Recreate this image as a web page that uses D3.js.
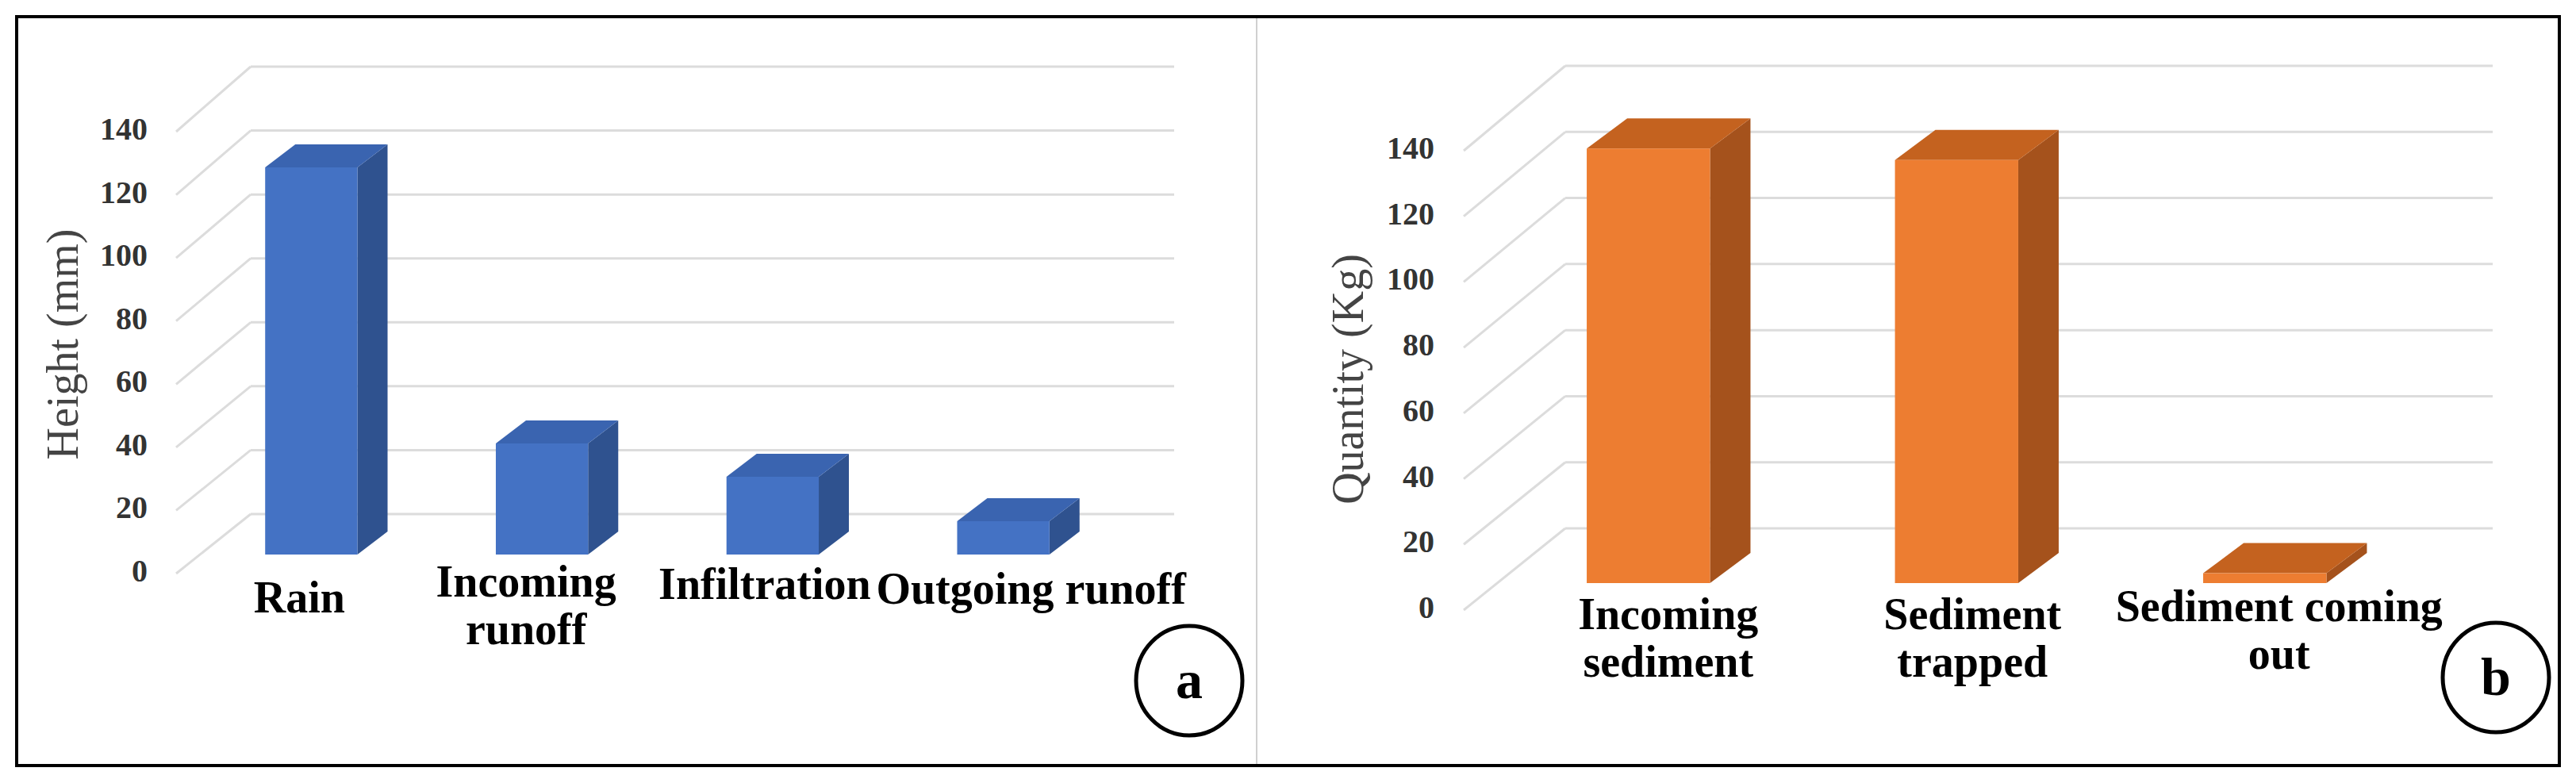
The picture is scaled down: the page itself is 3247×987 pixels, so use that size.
<!DOCTYPE html>
<html>
<head>
<meta charset="utf-8">
<script src="https://cdn.jsdelivr.net/npm/d3@7"></script>
<style>
  body { margin: 0; background: #fff; }
  svg { display: block; }
</style>
</head>
<body>
<div id="container"></div>
<script>
// data
let ticks = [0, 20, 40, 60, 80, 100, 120, 140];
let catsA = [["Rain"], ["Incoming", "runoff"], ["Infiltration"], ["Outgoing runoff"]];
let valsA = [122, 35, 24.5, 10.5];
let catsB = [["Incoming", "sediment"], ["Sediment", "trapped"], ["Sediment coming", "out"]];
let valsB = [132, 128.5, 3];

let w = 3247;
let h = 987;

let svg = d3.select("#container").append("svg")
  .attr("width", w)
  .attr("height", h);

// frame
svg.append("rect").attr("x", 21).attr("y", 21).attr("width", 3205).attr("height", 944)
  .attr("fill", "none").attr("stroke", "#000").attr("stroke-width", 4);
svg.append("line").attr("x1", 1584).attr("x2", 1584).attr("y1", 23).attr("y2", 963)
  .attr("stroke", "#d0d0d0").attr("stroke-width", 2);

function drawPanel(cfg) {
  let g = svg.append("g");
  let x = d3.scaleBand().domain(d3.range(cfg.cats.length))
    .range(cfg.xRange).paddingInner(0.6).paddingOuter(0.3);
  let yFront = d3.scaleLinear().domain([0, 140]).range(cfg.frontY);
  let yBack = d3.scaleLinear().domain([0, 140]).range(cfg.backY);
  let yBar = d3.scaleLinear().domain([0, 140]).range([cfg.base, cfg.base - 140 * cfg.unit]);

  // gridlines: diagonal on the left wall + back wall lines
  g.selectAll(".diag").data(ticks).join("line")
    .attr("x1", cfg.diagX0).attr("y1", d => yFront(d) + 4)
    .attr("x2", cfg.backX0).attr("y2", d => yBack(d))
    .attr("stroke", "#dcdcdc").attr("stroke-width", 3);
  g.selectAll(".back").data(ticks).join("line")
    .attr("x1", cfg.backX0).attr("y1", d => yBack(d))
    .attr("x2", cfg.backX1).attr("y2", d => yBack(d))
    .attr("stroke", "#dcdcdc").attr("stroke-width", 3);

  // tick labels
  g.selectAll(".tick").data(ticks).join("text")
    .attr("x", cfg.tickX).attr("y", d => yFront(d))
    .attr("text-anchor", "end").attr("dy", "0.35em")
    .attr("font-family", "Liberation Serif").attr("font-weight", "bold")
    .attr("font-size", 40).attr("fill", "#333")
    .text(d => d);

  // axis title
  g.append("text")
    .attr("transform", `translate(${cfg.titleX},${cfg.titleY}) rotate(-90)`)
    .attr("text-anchor", "middle").attr("dy", "0.35em")
    .attr("font-family", "Liberation Serif").attr("font-size", 56).attr("fill", "#444")
    .text(cfg.title);

  // 3d bars
  let dx = cfg.dx, dy = cfg.dy;
  let bars = g.selectAll(".bar").data(cfg.vals).join("g");
  bars.append("path")
    .attr("fill", cfg.side)
    .attr("d", (d, i) => {
      let x1 = x(i) + x.bandwidth(), yt = yBar(d), yb = yBar(0);
      return `M${x1},${yt}L${x1 + dx},${yt + dy}L${x1 + dx},${yb + dy}L${x1},${yb}Z`;
    });
  bars.append("path")
    .attr("fill", cfg.top)
    .attr("d", (d, i) => {
      let x0 = x(i), x1 = x0 + x.bandwidth(), yt = yBar(d);
      return `M${x0},${yt}L${x1},${yt}L${x1 + dx},${yt + dy}L${x0 + dx},${yt + dy}Z`;
    });
  bars.append("rect")
    .attr("x", (d, i) => x(i)).attr("width", x.bandwidth())
    .attr("y", d => yBar(d)).attr("height", d => yBar(0) - yBar(d))
    .attr("fill", cfg.front);

  // category labels
  let labels = g.selectAll(".cat").data(cfg.cats).join("text")
    .attr("x", (d, i) => x(i) + x.bandwidth() / 2 + cfg.labelShift[i])
    .attr("y", (d, i) => cfg.labelY[i])
    .attr("text-anchor", "middle")
    .attr("font-family", "Liberation Serif").attr("font-weight", "bold")
    .attr("font-size", 56).attr("fill", "#000");
  labels.selectAll("tspan").data(d => d).join("tspan")
    .attr("x", function () { return d3.select(this.parentNode).attr("x"); })
    .attr("dy", (d, j) => j === 0 ? 0 : 60)
    .text(d => d);

  // panel letter
  g.append("ellipse").attr("cx", cfg.circle[0]).attr("cy", cfg.circle[1])
    .attr("rx", 67).attr("ry", 69)
    .attr("fill", "none").attr("stroke", "#000").attr("stroke-width", 5);
  g.append("text").attr("x", cfg.circle[0]).attr("y", cfg.circle[1])
    .attr("text-anchor", "middle").attr("dy", "0.33em")
    .attr("font-family", "Liberation Serif").attr("font-weight", "bold")
    .attr("font-size", 68).text(cfg.letter);
}

drawPanel({
  cats: catsA, vals: valsA, title: "Height (mm)", letter: "a",
  xRange: [247, 1410], frontY: [719, 162], backY: [648, 84],
  base: 699, unit: 4.0, dx: 38, dy: -29,
  diagX0: 222, backX0: 316, backX1: 1480, tickX: 186,
  titleX: 78, titleY: 434,
  labelShift: [-15, -20, -10, 35], labelY: [772, 752, 755, 761],
  circle: [1499, 858],
  front: "#4472c4", side: "#2f528f", top: "#3a64b0"
});

drawPanel({
  cats: catsB, vals: valsB, title: "Quantity (Kg)", letter: "b",
  xRange: [1883.5, 3049], frontY: [765, 186], backY: [666, 83],
  base: 735, unit: 4.15, dx: 51, dy: -38,
  diagX0: 1845, backX0: 1973, backX1: 3142, tickX: 1808,
  titleX: 1698, titleY: 478,
  labelShift: [25, 20, 18], labelY: [793, 793, 783],
  circle: [3146, 854],
  front: "#ed7d31", side: "#a5521c", top: "#c4621f"
});
</script>
</body>
</html>
